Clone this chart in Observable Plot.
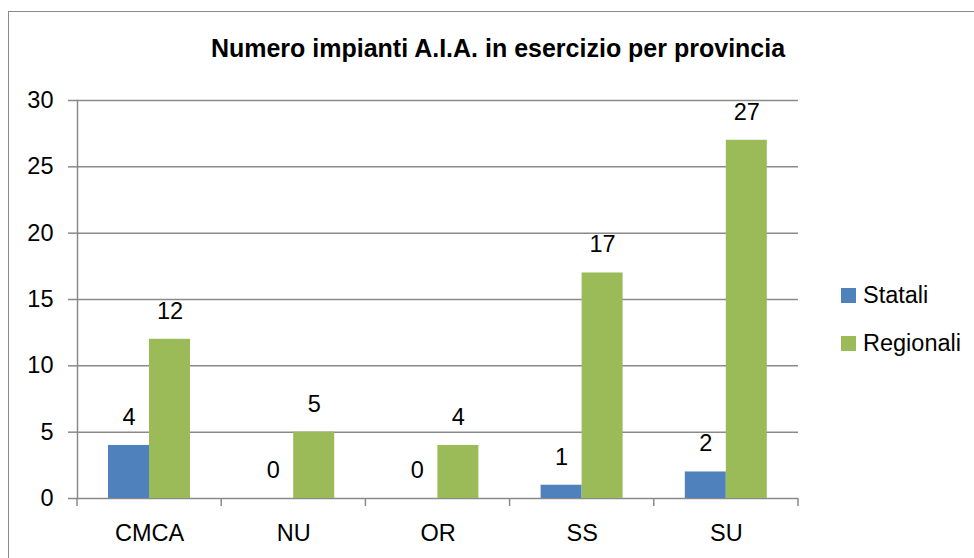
<!DOCTYPE html>
<html>
<head>
<meta charset="utf-8">
<script src="https://cdn.jsdelivr.net/npm/d3@7"></script>
<script src="https://cdn.jsdelivr.net/npm/@observablehq/plot@0.6"></script>
<style>
  html, body { margin: 0; padding: 0; background: #fff; }
  #wrap { position: relative; width: 974px; height: 558px; overflow: hidden; font-family: "Liberation Sans", Arial, sans-serif; }
  #border { position: absolute; left: 8px; top: 11px; width: 1200px; height: 800px; border: 1.5px solid #8a8a8a; box-sizing: border-box; }
  #title { position: absolute; left: 0; width: 996px; top: 34px; text-align: center; font-weight: bold; font-size: 25px; color: #000; white-space: nowrap; }
  #chart { position: absolute; left: 0; top: 0; }
  #legend { position: absolute; left: 841px; top: 280px; font-size: 23.5px; color: #000; }
  .item { display: flex; align-items: center; height: 30px; margin-bottom: 18.5px; }
  .sw { width: 15px; height: 15px; margin-right: 7px; }
</style>
</head>
<body>
<div id="wrap">
  <div id="border"></div>
  <div id="title"></div>
  <div id="chart"></div>
  <div id="legend"></div>
</div>
<script>
const titleText = "Numero impianti A.I.A. in esercizio per provincia";
const categories = ["CMCA", "NU", "OR", "SS", "SU"];
const seriesNames = ["Statali", "Regionali"];
const statali = [4, 0, 0, 1, 2];
const regionali = [12, 5, 4, 17, 27];
const yTicks = [0, 5, 10, 15, 20, 25, 30];
const seriesColors = ["#4F81BD", "#9BBB59"];

const gridColor = "#8a8a8a";
const fontFamily = "'Liberation Sans', Arial, sans-serif";
const fs = 23.5;

const rows = categories.flatMap((c, i) => [
  {cat: c, series: seriesNames[0], value: statali[i]},
  {cat: c, series: seriesNames[1], value: regionali[i]}
]);
const sRows = rows.filter(d => d.series === seriesNames[0]);
const rRows = rows.filter(d => d.series === seriesNames[1]);

const width = 974, height = 558;
const mL = 77, mR = 176, mT = 100, mB = 60;
const step = (width - mL - mR) / categories.length; // band width
const outerPad = 31, barW = 41;

function categoryTicks(index, scales) {
  const x = scales.x, y = scales.y;
  const bw = typeof x.bandwidth === "function" ? x.bandwidth() : (scales.scales?.x?.bandwidth ?? step);
  const y0 = y(0);
  const edges = categories.map(c => x(c)).concat([x(categories[categories.length - 1]) + bw]);
  const g = d3.create("svg:g");
  g.selectAll("line").data(edges).join("line")
    .attr("x1", d => d).attr("x2", d => d)
    .attr("y1", y0).attr("y2", y0 + 8)
    .attr("stroke", gridColor).attr("stroke-width", 1.5);
  return g.node();
}

const chart = Plot.plot({
  width, height,
  marginLeft: mL, marginRight: mR, marginTop: mT, marginBottom: mB,
  style: {fontFamily, fontSize: fs + "px", background: "transparent", color: "#000"},
  x: {domain: categories, padding: 0, round: false, label: null},
  y: {domain: [0, 30], label: null},
  marks: [
    Plot.gridY(yTicks, {stroke: gridColor, strokeOpacity: 1, strokeWidth: 1.5}),
    Plot.barY(sRows, {x: "cat", y: "value", fill: seriesColors[0], insetLeft: outerPad, insetRight: step - outerPad - barW}),
    Plot.barY(rRows, {x: "cat", y: "value", fill: seriesColors[1], insetLeft: outerPad + barW, insetRight: step - outerPad - 2 * barW}),
    Plot.frame({anchor: "left", stroke: gridColor, strokeWidth: 1.5}),
    categoryTicks,
    Plot.axisY({ticks: yTicks, tickSize: 9, tickPadding: 15, stroke: gridColor, strokeWidth: 1.5, fontSize: fs, fill: "#000", label: null}),
    Plot.axisX({tickSize: 0, tickPadding: 26, fontSize: fs, fill: "#000", label: null}),
    Plot.text(sRows, {x: "cat", y: "value", text: d => String(d.value), dx: -(step / 2 - outerPad - barW / 2), dy: -28, lineAnchor: "middle", fontSize: fs, fill: "#000"}),
    Plot.text(rRows, {x: "cat", y: "value", text: d => String(d.value), dx: (outerPad + 1.5 * barW) - step / 2, dy: -28, lineAnchor: "middle", fontSize: fs, fill: "#000"})
  ]
});
document.getElementById("chart").appendChild(chart);
document.getElementById("title").textContent = titleText;

const legend = document.getElementById("legend");
seriesNames.forEach((name, i) => {
  const item = document.createElement("div");
  item.className = "item";
  const sw = document.createElement("div");
  sw.className = "sw";
  sw.style.background = seriesColors[i];
  const lab = document.createElement("span");
  lab.textContent = name;
  item.appendChild(sw);
  item.appendChild(lab);
  legend.appendChild(item);
});
</script>
</body>
</html>
